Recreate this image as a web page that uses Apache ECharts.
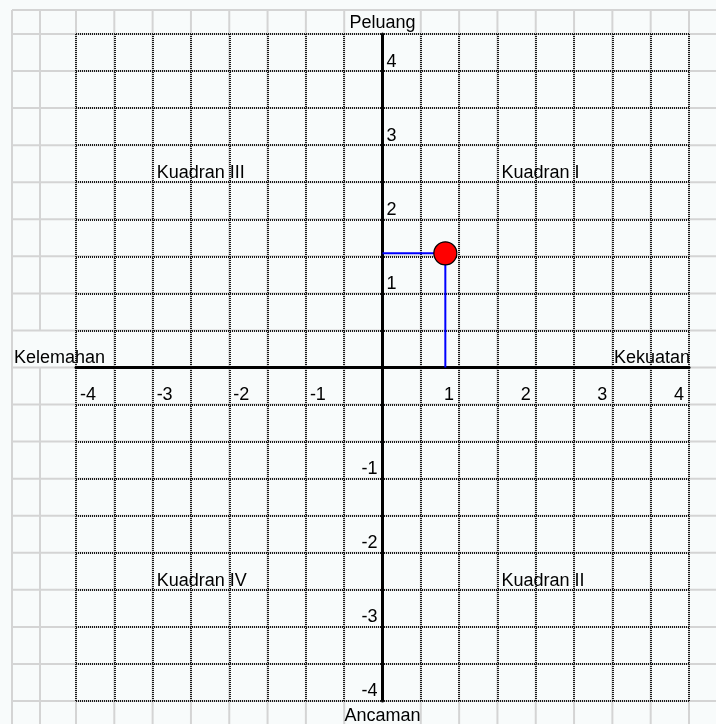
<!DOCTYPE html>
<html>
<head>
<meta charset="utf-8">
<script src="https://cdn.jsdelivr.net/npm/echarts@6/dist/echarts.min.js"></script>
<style>
html,body{margin:0;padding:0;background:#f8fbfb;}
#chart{width:716px;height:724px;}
</style>
</head>
<body>
<div id="chart"></div>
<script>
// ---- data ----
const pointX = [0.82];
const pointY = [1.54];
const xTickLabels = ['-4', '-3', '-2', '-1', '1', '2', '3', '4'];
const yTickLabels = ['-4', '-3', '-2', '-1', '1', '2', '3', '4'];
const quadrantNames = ['Kuadran I', 'Kuadran II', 'Kuadran III', 'Kuadran IV'];
const axisNames = ['Kelemahan', 'Kekuatan', 'Peluang', 'Ancaman'];

// ---- layout / style ----
const W = 716, H = 724;
const G = { left: 76, right: 27, top: 34, bottom: 23 };
const X_MIN = -4, X_MAX = 4, Y_MIN = -4.5, Y_MAX = 4.5;
const gridW = W - G.left - G.right, gridH = H - G.top - G.bottom;
// shift axes from the grid edges onto the zero lines
const xOff = -gridH * (0 - Y_MIN) / (Y_MAX - Y_MIN);   // bottom axis moved up
const yOffL = -gridW * (0 - X_MIN) / (X_MAX - X_MIN);  // left axis moved right
const yOffR = -gridW * (X_MAX - 0) / (X_MAX - X_MIN);  // right axis moved left

const FONT = 'Liberation Sans, Arial, sans-serif';
const FS = 18;
const txt = { fontFamily: FONT, fontSize: FS, color: '#000' };
const dotted = { color: '#1a1a1a', width: 2, type: [1, 1] };
const quadrantAnchors = [[1.5, 2.5], [1.5, -3], [-3, 2.5], [-3, -3]];

function lbl(list, v, sign) {
  const s = String(v);
  if (!Number.isInteger(v)) return '';
  if (sign < 0 && v >= 0) return '';
  if (sign > 0 && v <= 0) return '';
  return list.indexOf(s) >= 0 ? s : '';
}

const chart = echarts.init(document.getElementById('chart'));
const option = {
  backgroundColor: '#f8fbfb',
  animation: false,
  grid: Object.assign({ containLabel: false, outerBoundsMode: 'none' }, G),
  xAxis: [
    {
      type: 'value', min: X_MIN, max: X_MAX, interval: 0.5, position: 'bottom', offset: xOff,
      axisLine: { onZero: false, lineStyle: { color: '#000', width: 3 } },
      axisTick: { show: false },
      splitLine: { show: true, lineStyle: dotted },
      axisLabel: Object.assign({
        showMinLabel: true, showMaxLabel: true, margin: 19, hideOverlap: false,
        align: 'left', verticalAlign: 'top', padding: [0, 0, 0, 4],
        formatter: v => lbl(xTickLabels, v, -1)
      }, txt),
      name: axisNames[0], nameLocation: 'start', nameGap: 62,
      nameTextStyle: Object.assign({ align: 'left', verticalAlign: 'bottom' }, txt)
    },
    {
      type: 'value', min: X_MIN, max: X_MAX, interval: 0.5, position: 'bottom', offset: xOff,
      axisLine: { show: false, onZero: false },
      axisTick: { show: false },
      splitLine: { show: false },
      axisLabel: Object.assign({
        showMinLabel: true, showMaxLabel: true, margin: 19, hideOverlap: false,
        align: 'right', verticalAlign: 'top', padding: [0, 5, 0, 0],
        formatter: v => lbl(xTickLabels, v, 1)
      }, txt),
      name: axisNames[1], nameLocation: 'end', nameGap: 1,
      nameTextStyle: Object.assign({ align: 'right', verticalAlign: 'bottom' }, txt)
    }
  ],
  yAxis: [
    {
      type: 'value', min: Y_MIN, max: Y_MAX, interval: 0.5, position: 'right', offset: yOffR,
      axisLine: { onZero: false, lineStyle: { color: '#000', width: 3 } },
      axisTick: { show: false },
      splitLine: { show: true, lineStyle: dotted },
      axisLabel: Object.assign({
        showMinLabel: true, showMaxLabel: true, margin: 4, hideOverlap: false,
        align: 'left', verticalAlign: 'bottom',
        formatter: v => lbl(yTickLabels, v, 1)
      }, txt),
      name: axisNames[2], nameLocation: 'end', nameGap: 2,
      nameTextStyle: Object.assign({ align: 'center', verticalAlign: 'bottom' }, txt)
    },
    {
      type: 'value', min: Y_MIN, max: Y_MAX, interval: 0.5, position: 'left', offset: yOffL,
      axisLine: { show: false, onZero: false },
      axisTick: { show: false },
      splitLine: { show: false },
      axisLabel: Object.assign({
        showMinLabel: true, showMaxLabel: true, margin: 5, hideOverlap: false,
        align: 'right', verticalAlign: 'top', padding: [18, 0, 0, 0],
        formatter: v => lbl(yTickLabels, v, -1)
      }, txt),
      name: axisNames[3], nameLocation: 'start', nameGap: 6,
      nameTextStyle: Object.assign({ align: 'center', verticalAlign: 'top' }, txt)
    }
  ],
  series: [
    {
      type: 'line', xAxisIndex: 0, yAxisIndex: 0, silent: true,
      symbol: 'none', z: 3,
      lineStyle: { color: '#0000ff', width: 2 },
      data: [[0, pointY[0]], [pointX[0], pointY[0]], [pointX[0], 0]]
    },
    {
      type: 'scatter', xAxisIndex: 0, yAxisIndex: 0, silent: true, z: 4,
      symbol: 'circle', symbolSize: 23,
      itemStyle: { color: '#ff0000', borderColor: '#000', borderWidth: 1.2, opacity: 1 },
      data: pointX.map((x, i) => [x, pointY[i]])
    },
    {
      type: 'scatter', xAxisIndex: 0, yAxisIndex: 0, silent: true, z: 3,
      symbolSize: 0, itemStyle: { opacity: 1 },
      label: Object.assign({
        show: true, position: [4, 0], align: 'left', verticalAlign: 'bottom',
        formatter: p => p.name
      }, txt),
      data: quadrantNames.map((n, i) => ({ name: n, value: quadrantAnchors[i] }))
    }
  ]
};
chart.setOption(option);

// spreadsheet-like background cell grid
(function () {
  const g = [];
  const gray = { stroke: '#d4d4d4', lineWidth: 2 };
  const toPx = (x, y) => chart.convertToPixel({ gridIndex: 0 }, [x, y]);
  const xs = [12, 40];
  for (let v = X_MIN; v <= X_MAX + 0.001; v += 0.5) xs.push(toPx(v, 0)[0]);
  const ys = [10];
  for (let v = Y_MAX; v >= Y_MIN - 0.001; v -= 0.5) ys.push(toPx(0, v)[1]);
  const plotTop = ys[1], plotBottom = ys[ys.length - 1];
  const zero = toPx(0, 0);
  const rowAbove0 = toPx(0, 0.5)[1];
  function vline(x, y1, y2) { g.push({ type: 'line', z: -10, silent: true, shape: { x1: x, y1: y1, x2: x, y2: y2 }, style: gray }); }
  function hline(y, x1, x2) { g.push({ type: 'line', z: -10, silent: true, shape: { x1: x1, y1: y, x2: x2, y2: y }, style: gray }); }
  xs.forEach(x => {
    if (Math.abs(x - zero[0]) < 1) { vline(x, plotTop, plotBottom); }
    else if (x === 40) { vline(x, 10, rowAbove0); vline(x, zero[1], H); }
    else vline(x, 10, H);
  });
  ys.forEach(y => hline(y, 12, W));
  chart.setOption({ graphic: { elements: g } });
})();
</script>
</body>
</html>
